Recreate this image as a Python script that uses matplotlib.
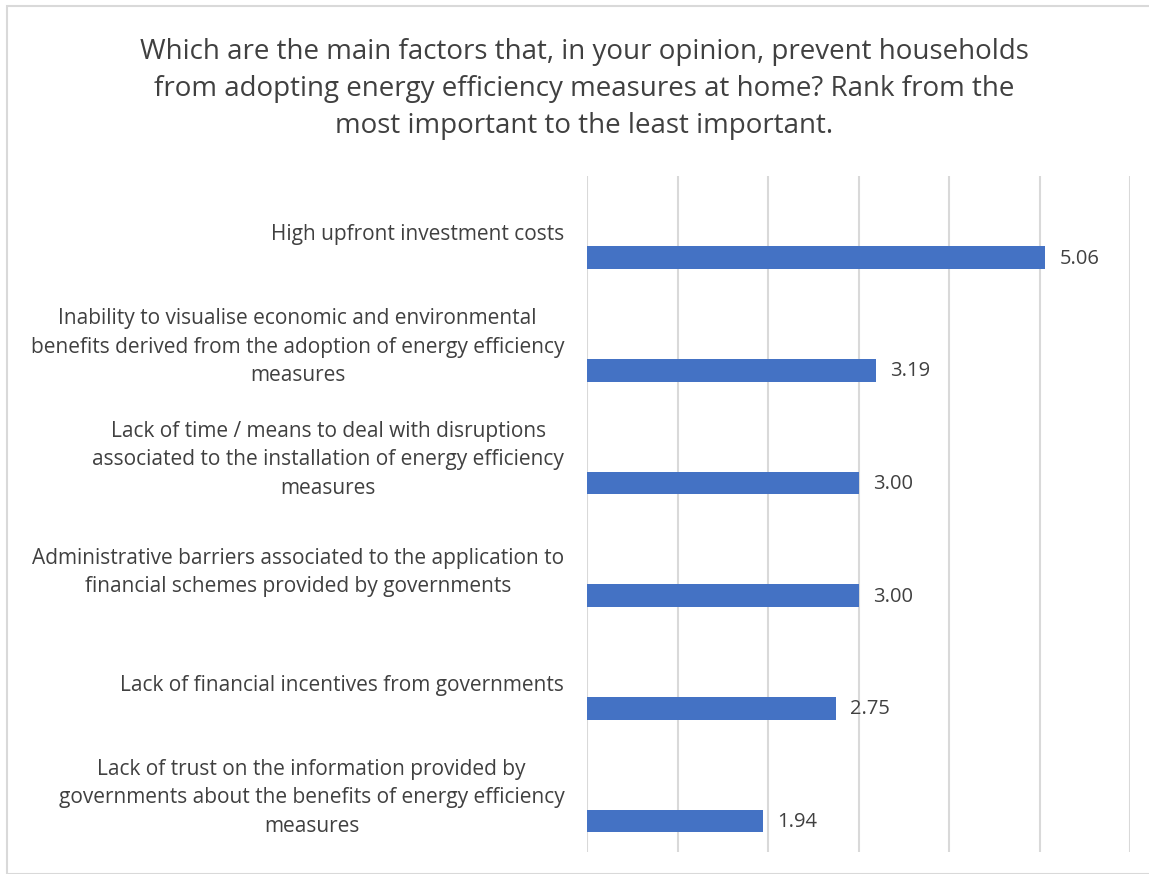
import matplotlib.pyplot as plt
from matplotlib.patches import Rectangle

# Data
categories = [
    "High upfront investment costs",
    "Inability to visualise economic and environmental\nbenefits derived from the adoption of energy efficiency\nmeasures",
    "Lack of time / means to deal with disruptions\nassociated to the installation of energy efficiency\nmeasures",
    "Administrative barriers associated to the application to\nfinancial schemes provided by governments",
    "Lack of financial incentives from governments",
    "Lack of trust on the information provided by\ngovernments about the benefits of energy efficiency\nmeasures",
]
scores = [5.06, 3.19, 3.00, 3.00, 2.75, 1.94]

title = ("Which are the main factors that, in your opinion, prevent households\n"
         "from adopting energy efficiency measures at home? Rank from the\n"
         "most important to the least important.")

plt.rcParams['font.family'] = ['Open Sans', 'DejaVu Sans']
text_color = "#404040"
bar_color = "#4472C4"
grid_color = "#D9D9D9"

fig = plt.figure(figsize=(11.49, 8.74), dpi=100)
fig.patches.append(Rectangle((7 / 1149, 0.0), 1.0, 1 - 6 / 874, transform=fig.transFigure,
                             fill=False, edgecolor="#D9D9D9", linewidth=1.5))

ax = fig.add_axes([587 / 1149, 1 - 852 / 874, 543 / 1149, 676 / 874])

pos = list(range(len(categories)))
bar_pos = [p + 0.225 for p in pos]
ax.barh(bar_pos, scores, height=0.2, color=bar_color)

for y, v in zip(bar_pos, scores):
    ax.text(v + 0.16, y + 0.01, f"{v:.2f}", va="center", ha="left", fontsize=14.5, color=text_color)

for y, lab in zip(pos, categories):
    ax.text(-0.25, y + 0.02, lab, va="center", ha="right", multialignment="center",
            fontsize=15, color=text_color, linespacing=1.47)

ax.set_xlim(0, 6)
ax.set_ylim(len(categories) - 0.5, -0.5)
ax.set_xticks(range(7))
ax.xaxis.grid(True, color=grid_color, linewidth=1.5)
ax.set_axisbelow(True)
ax.tick_params(left=False, bottom=False, labelleft=False, labelbottom=False)
for s in ax.spines.values():
    s.set_visible(False)

fig.text(584 / 1149, 1 - 89 / 874, title, ha="center", va="center", fontsize=20,
         color=text_color, linespacing=1.45)

fig.savefig("out.png", dpi=100)
